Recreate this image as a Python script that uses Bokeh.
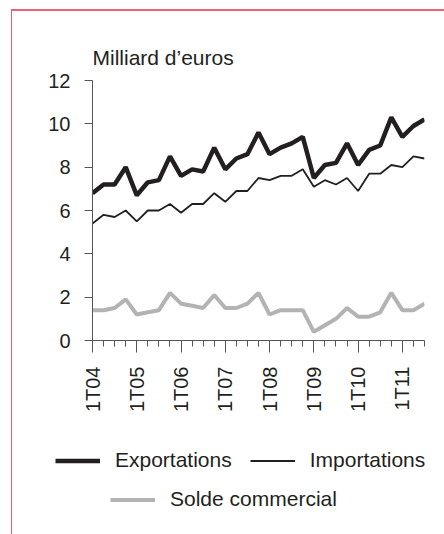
from math import pi
from bokeh.plotting import figure
from bokeh.layouts import column, row
from bokeh.models import (FixedTicker, Range1d, Legend, LegendItem, ColumnDataSource)
from bokeh.embed import file_html
from bokeh.resources import INLINE

# ---- data (quarters 1T04 .. 3T11) ----
quarters = [f"{q}T{y:02d}" for y in range(4, 12) for q in range(1, 5)][:31]
exportations = [6.8, 7.2, 7.2, 8.0, 6.7, 7.3, 7.4, 8.5, 7.6, 7.9, 7.8, 8.9, 7.9, 8.4,
                8.6, 9.6, 8.6, 8.9, 9.1, 9.4, 7.5, 8.1, 8.2, 9.1, 8.1, 8.8, 9.0, 10.3,
                9.4, 9.9, 10.2]
importations = [5.4, 5.8, 5.7, 6.0, 5.5, 6.0, 6.0, 6.3, 5.9, 6.3, 6.3, 6.8, 6.4, 6.9,
                6.9, 7.5, 7.4, 7.6, 7.6, 7.9, 7.1, 7.4, 7.2, 7.5, 6.9, 7.7, 7.7, 8.1,
                8.0, 8.5, 8.4]
solde = [1.4, 1.4, 1.5, 1.9, 1.2, 1.3, 1.4, 2.2, 1.7, 1.6, 1.5, 2.1, 1.5, 1.5,
         1.7, 2.2, 1.2, 1.4, 1.4, 1.4, 0.4, 0.7, 1.0, 1.5, 1.1, 1.1, 1.3, 2.2,
         1.4, 1.4, 1.7]
y_ticks = [0, 2, 4, 6, 8, 10, 12]
year_labels = ["1T04", "1T05", "1T06", "1T07", "1T08", "1T09", "1T10", "1T11"]
series_names = ["Exportations", "Importations", "Solde commercial"]

idx = list(range(len(quarters)))
src = ColumnDataSource(dict(x=idx, exp=exportations, imp=importations, sol=solde))

FONT = "Liberation Sans"
TXT = "#231f20"
AX = "#555555"
GREY = "#b3b3b3"
BORDER = "#e8637a"
STYLES = [dict(line_color=TXT, line_width=4.5),
          dict(line_color=TXT, line_width=1.8),
          dict(line_color=GREY, line_width=4)]

# content origin on the page: (12, 11)
p = figure(width=432, height=420, output_backend="svg", toolbar_location=None,
           x_range=Range1d(0, len(quarters) - 1), y_range=Range1d(0, 12),
           min_border_left=80, min_border_right=20, min_border_top=69,
           min_border_bottom=91)
p.outline_line_color = None
p.grid.grid_line_color = None

p.title.text = "Milliard d\u2019euros"
p.title.align = "left"
p.title.text_font = FONT
p.title.text_font_size = "21px"
p.title.text_font_style = "normal"
p.title.text_color = TXT
p.title.standoff = 24

ya = p.yaxis[0]
ya.ticker = FixedTicker(ticks=y_ticks, minor_ticks=[])
ya.major_tick_out = 8
ya.major_tick_in = 0
ya.minor_tick_out = 0
ya.axis_line_color = AX
ya.major_tick_line_color = AX
ya.major_label_text_font = FONT
ya.major_label_text_font_size = "20px"
ya.major_label_text_color = TXT
ya.major_label_standoff = 14

xa = p.xaxis[0]
year_pos = [4 * i for i in range(len(year_labels))]
xa.ticker = FixedTicker(ticks=year_pos, minor_ticks=idx)
xa.major_label_overrides = {pos: lab for pos, lab in zip(year_pos, year_labels)}
xa.major_tick_out = 12
xa.major_tick_in = 0
xa.minor_tick_out = 6
xa.minor_tick_in = 0
xa.axis_line_color = AX
xa.major_tick_line_color = AX
xa.minor_tick_line_color = AX
xa.major_label_orientation = pi / 2
xa.major_label_text_font = FONT
xa.major_label_text_font_size = "20px"
xa.major_label_text_color = TXT
xa.major_label_standoff = 14

p.line("x", "sol", source=src, **STYLES[2])
p.line("x", "imp", source=src, **STYLES[1])
p.line("x", "exp", source=src, **STYLES[0])

# legend figure (below the chart)
lf = figure(width=432, height=103, output_backend="svg", toolbar_location=None,
            x_range=Range1d(0, 1), y_range=Range1d(0, 1),
            x_axis_location=None, y_axis_location=None,
            min_border=0)
lf.outline_line_color = None
lf.grid.grid_line_color = None
nan = float("nan")
dummies = [lf.line(x=[nan], y=[nan], **st) for st in STYLES]

def make_legend(items, loc):
    return Legend(items=items, location=loc, orientation="horizontal",
                  label_text_font=FONT, label_text_font_size="21px",
                  label_text_color=TXT, glyph_width=45, glyph_height=21,
                  label_height=21, label_standoff=15, spacing=18, padding=0,
                  margin=0, border_line_alpha=0, background_fill_alpha=0)

lf.add_layout(make_legend([LegendItem(label=series_names[0], renderers=[dummies[0]]),
                           LegendItem(label=series_names[1], renderers=[dummies[1]])],
                          (43, 62)))
lf.add_layout(make_legend([LegendItem(label=series_names[2], renderers=[dummies[2]])],
                          (98, 23)))

layout = column(p, row(lf, spacing=0), spacing=0,
                styles={"margin-left": "11px", "margin-top": "9px",
                        "border-left": f"1px solid {BORDER}",
                        "border-top": f"2px solid {BORDER}"})

open("out.html", "w").write(file_html(layout, INLINE))
